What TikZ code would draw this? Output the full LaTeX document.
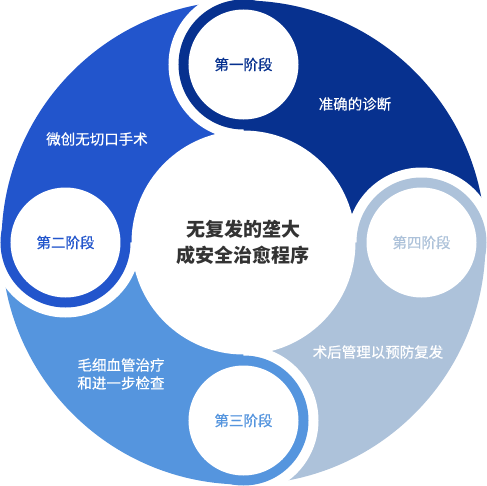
\documentclass[tikz,border=0pt]{standalone}
\usepackage{fontspec}
\setmainfont{Noto Sans CJK SC}
\newfontfamily\medfont[FakeBold=0.6]{Noto Sans CJK SC}
\usetikzlibrary{positioning}
\definecolor{phaseOne}{HTML}{07318F}
\definecolor{phaseTwo}{HTML}{2255CC}
\definecolor{phaseThree}{HTML}{5595DE}
\definecolor{phaseFour}{HTML}{ADC2DA}
\definecolor{coreText}{HTML}{333333}

\begin{document}
\begin{tikzpicture}[x=1pt, y=1pt,
    phaselabel/.style={font=\medfont\fontsize{14.5}{18}\selectfont, align=center},
    seglabel/.style={white, font=\medfont\fontsize{14.5}{18}\selectfont, align=center}]
    \useasboundingbox (-243.5, -242.5) rectangle (243.5, 242.5);
    % four quarter sectors of the wheel
    \fill[phaseOne]   (0,0) -- (0:242)   arc[start angle=0,   end angle=90,  radius=242] -- cycle;
    \fill[phaseTwo]   (0,0) -- (90:242)  arc[start angle=90,  end angle=180, radius=242] -- cycle;
    \fill[phaseThree] (0,0) -- (180:242) arc[start angle=180, end angle=270, radius=242] -- cycle;
    \fill[phaseFour]  (0,0) -- (270:242) arc[start angle=270, end angle=360, radius=242] -- cycle;
    % white gap cut into the sector that runs up to each phase circle
    \foreach \a in {0, 90, 180, 270} {
      \begin{scope}
        \clip (0,0) -- (\a:260) arc[start angle=\a, end angle=\a+90, radius=260] -- cycle;
        \fill[white] (\a:178) circle[radius=75];
      \end{scope}
    }
    % phase rings
    \foreach \a/\c in {90/phaseOne, 180/phaseTwo, 270/phaseThree, 0/phaseFour} {
      \fill[\c] (\a:178) circle[radius=65];
      \fill[white] (\a:178) circle[radius=55];
    }
    % centre disc
    \fill[white] (0,0) circle[radius=112];
    \node[coreText, font=\bfseries\fontsize{19}{26}\selectfont, align=center] (core) at (0, 0)
      {无复发的垄大\\成安全治愈程序};
    % phase labels
    \node[phaselabel, text=phaseOne]   (phase1) at (90:178)  {第一阶段};
    \node[phaselabel, text=phaseTwo]   (phase2) at (180:178) {第二阶段};
    \node[phaselabel, text=phaseThree] (phase3) at (270:178) {第三阶段};
    \node[phaselabel, text=phaseFour]  (phase4) at (0:178)   {第四阶段};
    % sector texts
    \node[seglabel] (diagnosis) at (111.5, 138.5)   {准确的诊断};
    \node[seglabel] (surgery)   at (-146.5, 103.5)  {微创无切口手术};
    \node[seglabel] (therapy)   at (-122.5, -131.5) {毛细血管治疗\\和进一步检查};
    \node[seglabel] (aftercare) at (134.5, -109.5)  {术后管理以预防复发};
  \end{tikzpicture}
\end{document}
